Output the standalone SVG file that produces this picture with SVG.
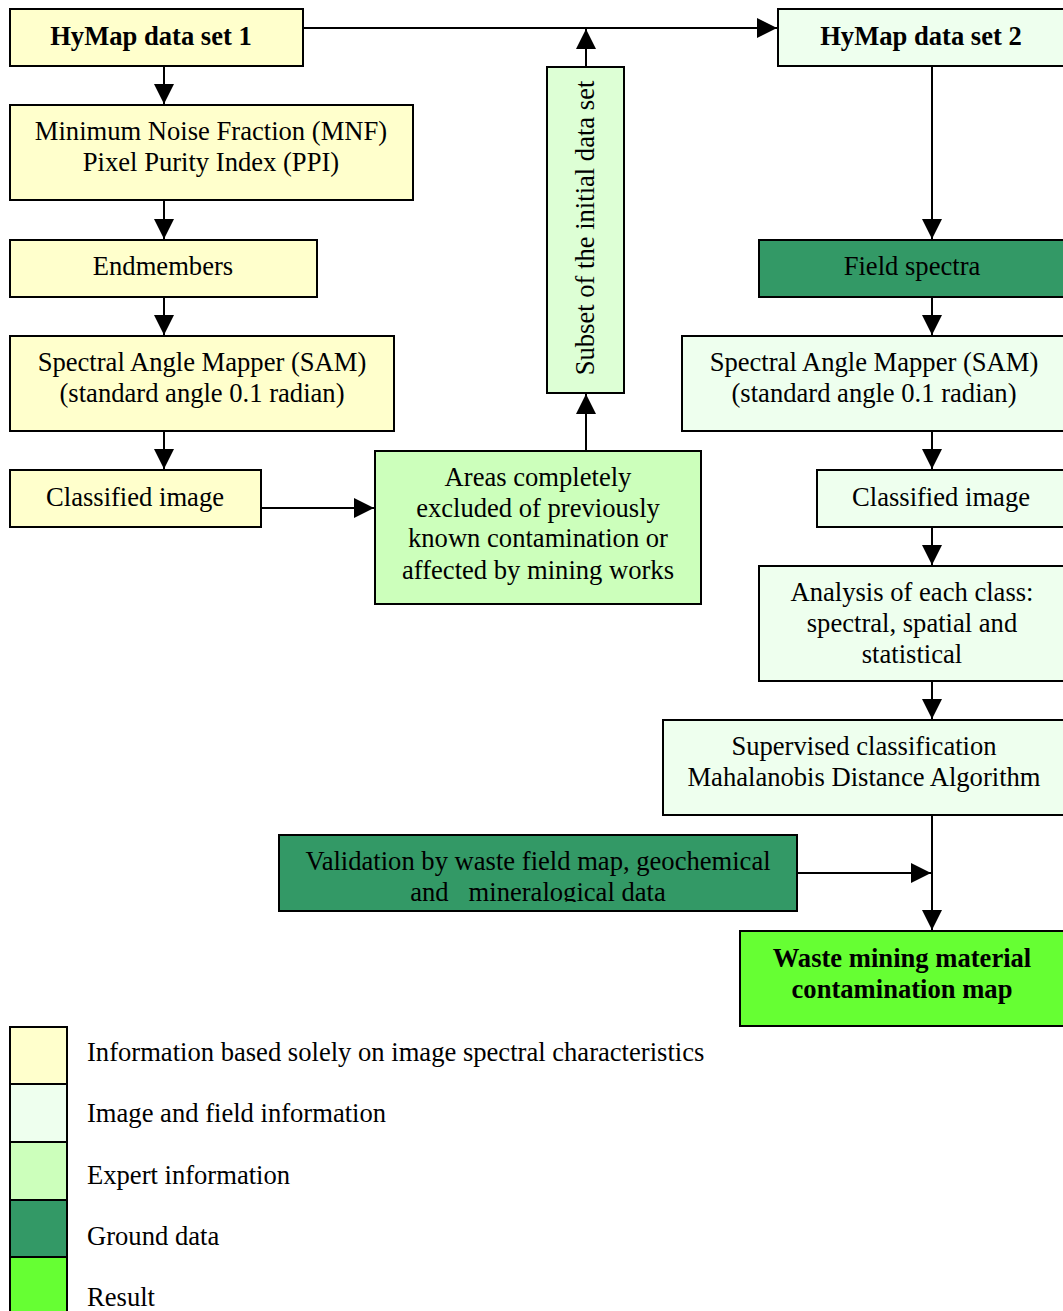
<svg xmlns="http://www.w3.org/2000/svg" width="1063" height="1311" viewBox="0 0 1063 1311">
  <style>
    .box { stroke: #000; stroke-width: 2; }
    .img { fill: #FFFFCC; }
    .fld { fill: #EEFFEE; }
    .exp { fill: #CCFFBB; }
    .sub { fill: #DDFFD5; }
    .gnd { fill: #339966; }
    .res { fill: #66FF33; }
    text { font-family: "Liberation Serif", "Times New Roman", serif; font-size: 26.6px; fill: #000; }
    .c { text-anchor: middle; }
    .b { font-weight: bold; }
    .edge { stroke: #000; stroke-width: 2; fill: none; }
  </style>
  <defs>
    <marker id="arrow" viewBox="0 0 20 20" refX="20" refY="10" markerWidth="20" markerHeight="20" markerUnits="userSpaceOnUse" orient="auto">
      <path d="M0,0 L20,10 L0,20 Z" fill="#000"/>
    </marker>
    <clipPath id="valclip">
      <rect x="279" y="835" width="518" height="67"/>
    </clipPath>
  </defs>

  <rect width="1063" height="1311" fill="#fff"/>

  <g id="connectors">
    <line class="edge" x1="164" y1="66" x2="164" y2="104" marker-end="url(#arrow)"/>
    <line class="edge" x1="164" y1="200" x2="164" y2="239" marker-end="url(#arrow)"/>
    <line class="edge" x1="164" y1="297" x2="164" y2="335" marker-end="url(#arrow)"/>
    <line class="edge" x1="164" y1="431" x2="164" y2="469" marker-end="url(#arrow)"/>
    <line class="edge" x1="261" y1="508" x2="374" y2="508" marker-end="url(#arrow)"/>
    <line class="edge" x1="586" y1="451" x2="586" y2="394" marker-end="url(#arrow)"/>
    <line class="edge" x1="586" y1="67" x2="586" y2="29" marker-end="url(#arrow)"/>
    <line class="edge" x1="303" y1="28" x2="777" y2="28" marker-end="url(#arrow)"/>
    <line class="edge" x1="932" y1="66" x2="932" y2="239" marker-end="url(#arrow)"/>
    <line class="edge" x1="932" y1="297" x2="932" y2="335" marker-end="url(#arrow)"/>
    <line class="edge" x1="932" y1="431" x2="932" y2="469" marker-end="url(#arrow)"/>
    <line class="edge" x1="932" y1="527" x2="932" y2="565" marker-end="url(#arrow)"/>
    <line class="edge" x1="932" y1="681" x2="932" y2="719" marker-end="url(#arrow)"/>
    <line class="edge" x1="932" y1="815" x2="932" y2="930" marker-end="url(#arrow)"/>
    <line class="edge" x1="797" y1="873" x2="931" y2="873" marker-end="url(#arrow)"/>
  </g>

  <g id="hymap1">
    <rect class="box img" x="10" y="9" width="293" height="57"/>
    <text class="c b" x="151" y="45">HyMap data set 1</text>
  </g>
  <g id="mnf">
    <rect class="box img" x="10" y="105" width="403" height="95"/>
    <text class="c" x="211" y="140">Minimum Noise Fraction (MNF)</text>
    <text class="c" x="211" y="171">Pixel Purity Index (PPI)</text>
  </g>
  <g id="endmembers">
    <rect class="box img" x="10" y="240" width="307" height="57"/>
    <text class="c" x="163" y="275">Endmembers</text>
  </g>
  <g id="sam-left">
    <rect class="box img" x="10" y="336" width="384" height="95"/>
    <text class="c" x="202" y="371">Spectral Angle Mapper (SAM)</text>
    <text class="c" x="202" y="402">(standard angle 0.1 radian)</text>
  </g>
  <g id="classified-left">
    <rect class="box img" x="10" y="470" width="251" height="57"/>
    <text class="c" x="135" y="506">Classified image</text>
  </g>
  <g id="areas">
    <rect class="box exp" x="375" y="451" width="326" height="153"/>
    <text class="c" x="538" y="486">Areas completely</text>
    <text class="c" x="538" y="517">excluded of previously</text>
    <text class="c" x="538" y="547">known contamination or</text>
    <text class="c" x="538" y="579">affected by mining works</text>
  </g>
  <g id="subset">
    <rect class="box sub" x="547" y="67" width="77" height="326"/>
    <text class="c" transform="translate(594,228) rotate(-90)">Subset of the initial data set</text>
  </g>
  <g id="hymap2">
    <rect class="box fld" x="778" y="9" width="300" height="57"/>
    <text class="c b" x="921" y="45">HyMap data set 2</text>
  </g>
  <g id="field-spectra">
    <rect class="box gnd" x="759" y="240" width="320" height="57"/>
    <text class="c" x="912" y="275">Field spectra</text>
  </g>
  <g id="sam-right">
    <rect class="box fld" x="682" y="336" width="397" height="95"/>
    <text class="c" x="874" y="371">Spectral Angle Mapper (SAM)</text>
    <text class="c" x="874" y="402">(standard angle 0.1 radian)</text>
  </g>
  <g id="classified-right">
    <rect class="box fld" x="817" y="470" width="262" height="57"/>
    <text class="c" x="941" y="506">Classified image</text>
  </g>
  <g id="analysis">
    <rect class="box fld" x="759" y="566" width="320" height="115"/>
    <text class="c" x="912" y="601">Analysis of each class:</text>
    <text class="c" x="912" y="632">spectral, spatial and</text>
    <text class="c" x="912" y="663">statistical</text>
  </g>
  <g id="supervised">
    <rect class="box fld" x="663" y="720" width="416" height="95"/>
    <text class="c" x="864" y="755">Supervised classification</text>
    <text class="c" x="864" y="786">Mahalanobis Distance Algorithm</text>
  </g>
  <g id="validation">
    <rect class="box gnd" x="279" y="835" width="518" height="76"/>
    <g clip-path="url(#valclip)">
      <text class="c" x="538" y="870">Validation by waste field map, geochemical</text>
      <text class="c" x="538" y="901" xml:space="preserve">and   mineralogical data</text>
    </g>
  </g>
  <g id="result">
    <rect class="box res" x="740" y="931" width="339" height="95"/>
    <text class="c b" x="902" y="967">Waste mining material</text>
    <text class="c b" x="902" y="998">contamination map</text>
  </g>

  <g id="legend">
    <rect class="box img" x="10" y="1027" width="57" height="57"/>
    <rect class="box fld" x="10" y="1084" width="57" height="58"/>
    <rect class="box exp" x="10" y="1142" width="57" height="58"/>
    <rect class="box gnd" x="10" y="1200" width="57" height="57"/>
    <rect class="box res" x="10" y="1257" width="57" height="60"/>
    <text x="87" y="1061">Information based solely on image spectral characteristics</text>
    <text x="87" y="1122">Image and field information</text>
    <text x="87" y="1184">Expert information</text>
    <text x="87" y="1245">Ground data</text>
    <text x="87" y="1306">Result</text>
  </g>
</svg>
